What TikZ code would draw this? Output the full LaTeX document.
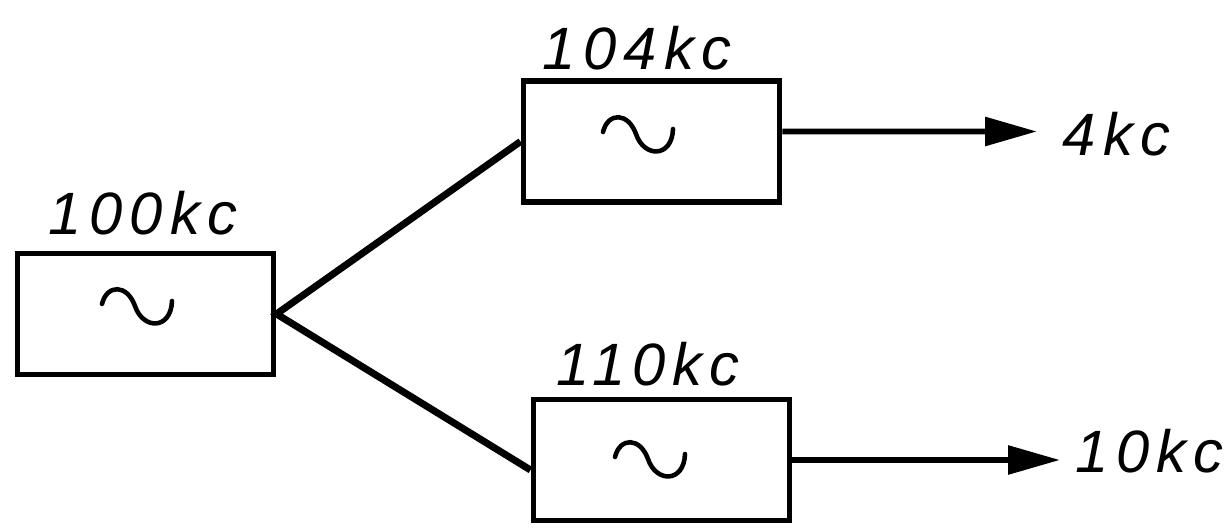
\documentclass[tikz,border=0pt]{standalone}
\usepackage{fontspec}
\setmainfont{Liberation Sans}
\newfontfamily\kcfont[LetterSpace=12]{Liberation Sans}
\usepackage{tikz}
\usetikzlibrary{calc}
\usetikzlibrary{arrows.meta}
\def\wave{\tikz[x=0.1mm,y=0.1mm,baseline=0]{
	\draw[line width=1.3pt,line cap=round] (-35,2) .. controls (-30,22) and (-10,22) .. (-2,0) .. controls (6,-24) and (34,-24) .. (35,5);}
	}
\tikzset{osc/.style={draw,line width=1.7pt,minimum width=2.56cm,minimum height=1.21cm,inner sep=0pt},
	freq/.style={font=\kcfont\itshape\fontsize{17}{20}\selectfont,inner sep=0pt,anchor=base}}

\begin{document}
\begin{tikzpicture}
					\useasboundingbox (0,0) rectangle (12.24,5.28);
					\node[osc] (osc100) at (1.455,2.14) {};
					\node[osc] (osc104) at (6.515,3.865) {};
					\node[osc] (osc110) at (6.615,0.68) {};
					\node (w100) at (1.37,2.21) {\wave};
					\node (w104) at (6.38,3.93) {\wave};
					\node (w110) at (6.50,0.68) {\wave};
					\draw[line width=2pt] (osc104.west)--(osc100.east)--([yshift=-1mm]osc110.west);
					\coordinate (out4) at (10.37,3.965);
					\coordinate (out10) at (10.60,0.68);
					\draw[line width=1.7pt,-{Triangle[length=5.2mm,width=2.8mm]}] ([yshift=1mm]osc104.east)--(out4);
					\draw[line width=1.7pt,-{Triangle[length=5.2mm,width=2.8mm]}] (osc110.east)--(out10);
					\node[freq] (f100) at (1.43,2.93) {100kc};
					\node[freq] (f104) at (6.37,4.58) {104kc};
					\node[freq] (f110) at (6.48,1.43) {110kc};
					\node[freq,anchor=base west] (f4) at (10.62,3.73) {4kc};
					\node[freq,anchor=base west] (f10) at (10.75,0.56) {10kc};
				\end{tikzpicture}
\end{document}
